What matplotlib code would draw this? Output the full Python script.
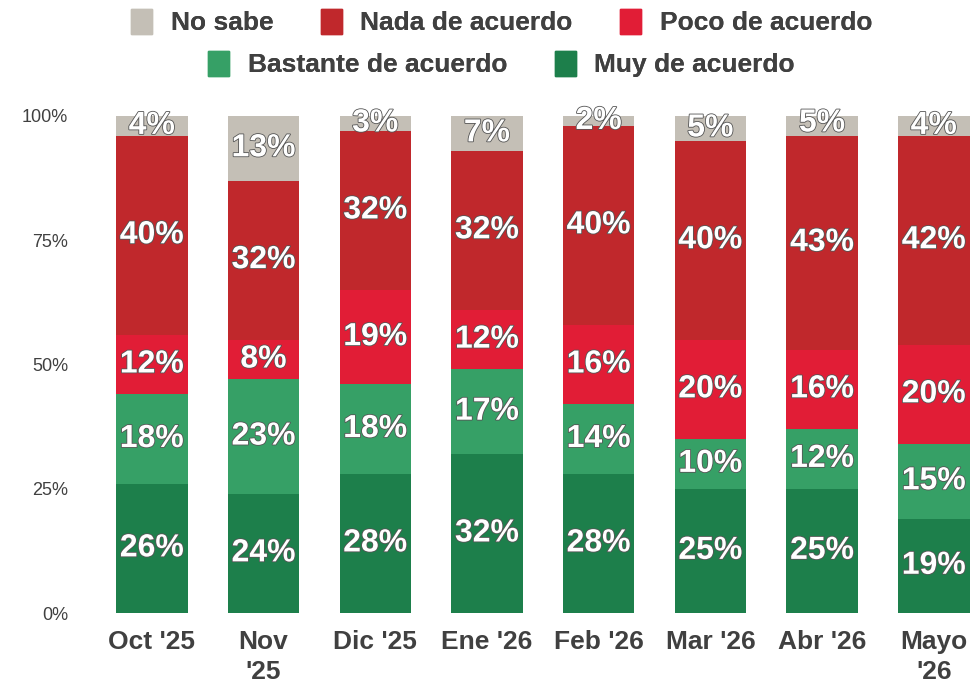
import numpy as np
import matplotlib.pyplot as plt
import matplotlib.patheffects as pe
from matplotlib.patches import Patch

# data (percent)
months = ["Oct '25", "Nov\n'25", "Dic '25", "Ene '26", "Feb '26", "Mar '26", "Abr '26", "Mayo\n'26"]
muy = [26, 24, 28, 32, 28, 25, 25, 19]
bastante = [18, 23, 18, 17, 14, 10, 12, 15]
poco = [12, 8, 19, 12, 16, 20, 16, 20]
nada = [40, 32, 32, 32, 40, 40, 43, 42]
no_sabe = [4, 13, 3, 7, 2, 5, 5, 4]

series = [("Muy de acuerdo", muy, "#1d7f4b"),
          ("Bastante de acuerdo", bastante, "#36a066"),
          ("Poco de acuerdo", poco, "#e11d36"),
          ("Nada de acuerdo", nada, "#c0282c"),
          ("No sabe", no_sabe, "#c4bfb6")]

plt.rcParams['font.family'] = ['Liberation Sans', 'DejaVu Sans']

fig = plt.figure(figsize=(9.74, 6.88), dpi=100)
ax = fig.add_axes([96 / 974, 75 / 688, 1 - 96 / 974, (613 - 116) / 688])

x = np.arange(len(months))
bottom = np.zeros(len(months))
for name, vals, col in series:
    v = np.array(vals, dtype=float)
    ax.bar(x, v, width=0.64, bottom=bottom, color=col, label=name)
    for xi, b, h in zip(x, bottom, v):
        ax.text(xi, b + h / 2, f"{int(h)}%", ha='center', va='center',
                color='white', fontsize=23, fontweight='bold',
                path_effects=[pe.withStroke(linewidth=1.2, foreground='#555555')])
    bottom += v

ax.set_xlim(-0.5, 7.36)
ax.set_ylim(0, 100)
ax.set_yticks([0, 25, 50, 75, 100])
ax.set_yticklabels(["0%", "25%", "50%", "75%", "100%"], fontsize=13, color='#404040')
ax.set_xticks(x)
ax.set_xticklabels(months, fontsize=19, fontweight='bold', color='#404040',
                   va='top', linespacing=1.35)
ax.tick_params(length=0, axis='x', pad=12)
ax.tick_params(length=0, axis='y', pad=20)
for s in ax.spines.values():
    s.set_visible(False)

cols = {n: c for n, _, c in series}
row1 = ["No sabe", "Nada de acuerdo", "Poco de acuerdo"]
row2 = ["Bastante de acuerdo", "Muy de acuerdo"]
for names, y in [(row1, 0.968), (row2, 0.907)]:
    handles = [Patch(color=cols[n], label=n) for n in names]
    leg = fig.legend(handles=handles, loc='center', bbox_to_anchor=(0.515, y),
                     ncol=len(names), frameon=False, handlelength=0.8,
                     handleheight=1.1, handletextpad=0.7, columnspacing=1.8,
                     prop={'weight': 'bold', 'size': 19})
    for t in leg.get_texts():
        t.set_color('#404040')
    fig.add_artist(leg)

fig.savefig("out.png", dpi=100)
